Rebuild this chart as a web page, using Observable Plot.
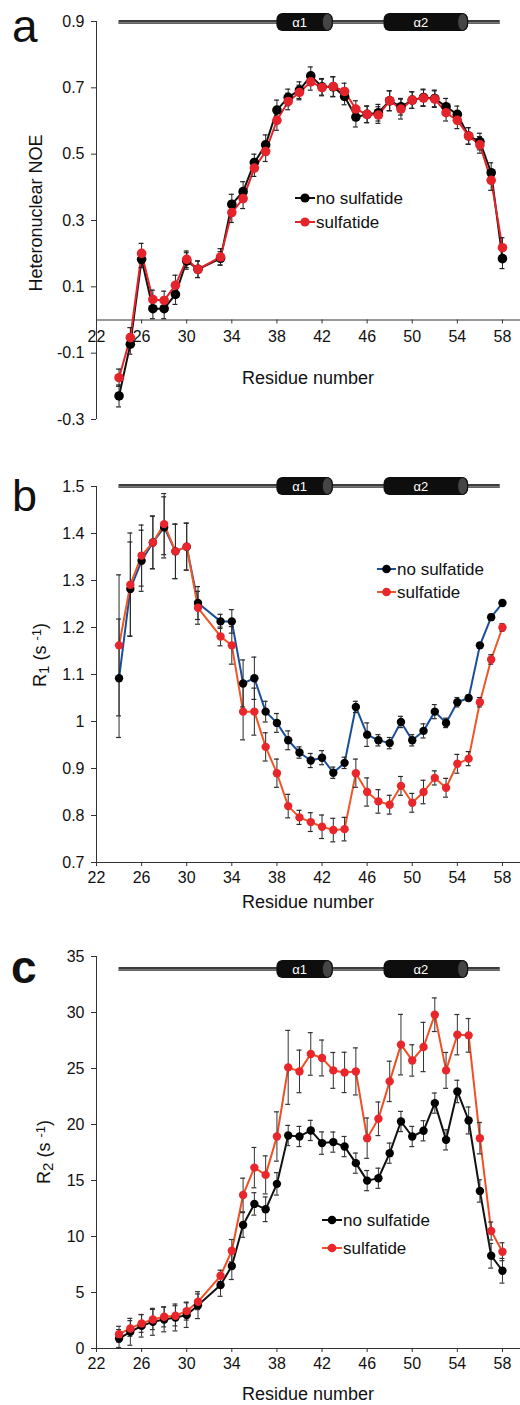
<!DOCTYPE html>
<html>
<head>
<meta charset="utf-8">
<script src="https://cdn.jsdelivr.net/npm/d3@7"></script>
<script src="https://cdn.jsdelivr.net/npm/@observablehq/plot@0.6"></script>
<style>
  body { margin: 0; background: #fff; }
  #chart { width: 520px; }
  #chart svg { display: block; }
</style>
</head>
<body>
<div id="chart"></div>
<script>
// ---------- data ----------
const residues = [24,25,26,27,28,29,30,31,33,34,35,36,37,38,39,40,41,42,43,44,45,46,47,48,49,50,51,52,53,54,55,56,57,58];
const seriesNames = ["no sulfatide", "sulfatide"];

// (a) heteronuclear NOE
const noeNoSulf = [-0.229,-0.073,0.183,0.034,0.034,0.077,0.178,0.153,0.186,0.349,0.387,0.475,0.528,0.633,0.671,0.693,0.736,0.703,0.703,0.674,0.612,0.620,0.625,0.661,0.643,0.663,0.671,0.668,0.643,0.620,0.555,0.538,0.444,0.185];
const noeNoSulfErr = [0.033,0.030,0.025,0.030,0.030,0.030,0.025,0.025,0.020,0.030,0.030,0.025,0.030,0.030,0.025,0.025,0.027,0.025,0.030,0.025,0.030,0.025,0.025,0.030,0.025,0.025,0.025,0.025,0.025,0.025,0.025,0.025,0.030,0.030];
const noeSulf = [-0.174,-0.053,0.201,0.062,0.059,0.105,0.183,0.153,0.190,0.324,0.366,0.458,0.508,0.602,0.659,0.686,0.718,0.701,0.704,0.689,0.636,0.620,0.618,0.661,0.636,0.663,0.669,0.666,0.625,0.602,0.555,0.528,0.421,0.218];
const noeSulfErr = [0.026,0.030,0.030,0.028,0.028,0.030,0.025,0.025,0.025,0.030,0.030,0.025,0.030,0.030,0.025,0.022,0.025,0.025,0.030,0.025,0.025,0.025,0.025,0.030,0.030,0.025,0.025,0.025,0.025,0.025,0.025,0.025,0.030,0.030];

// (b) R1
const r1NoSulf = [1.092,1.282,1.342,1.381,1.413,1.362,1.372,1.252,1.213,1.213,1.081,1.092,1.021,0.997,0.960,0.934,0.917,0.923,0.891,0.912,1.031,0.972,0.960,0.954,0.999,0.960,0.980,1.021,0.997,1.041,1.050,1.162,1.222,1.252];
const r1NoSulfErr = [0.126,0.100,0.065,0.056,0.065,0.058,0.050,0.035,0.015,0.025,0.050,0.045,0.022,0.020,0.020,0.012,0.015,0.015,0.012,0.012,0.012,0.025,0.012,0.012,0.012,0.012,0.015,0.015,0.010,0.010,0.006,0.006,0.006,0.006];
const r1Sulf = [1.162,1.291,1.353,1.381,1.420,1.362,1.372,1.242,1.181,1.162,1.021,1.021,0.946,0.890,0.820,0.796,0.786,0.776,0.769,0.771,0.890,0.850,0.830,0.823,0.863,0.827,0.850,0.880,0.859,0.910,0.921,1.041,1.132,1.200];
const r1SulfErr = [0.150,0.110,0.065,0.056,0.065,0.058,0.050,0.035,0.020,0.040,0.060,0.050,0.030,0.030,0.025,0.015,0.020,0.025,0.025,0.025,0.030,0.030,0.025,0.020,0.020,0.020,0.025,0.015,0.020,0.020,0.015,0.010,0.010,0.008];

// (c) R2
const r2NoSulf = [0.89,1.49,2.02,2.38,2.59,2.77,2.98,3.87,5.66,7.36,11.03,12.91,12.43,14.70,19.02,18.93,19.47,18.34,18.43,18.03,16.55,14.99,15.20,17.44,20.27,18.93,19.44,21.91,18.63,22.95,20.36,14.07,8.28,6.94];
const r2NoSulfErr = [0.8,1.2,1.0,1.2,1.1,1.2,1.1,1.2,1.0,1.2,1.1,1.0,1.1,1.0,0.9,0.9,0.9,1.0,0.9,0.9,0.9,0.9,0.9,0.9,0.9,0.9,0.9,0.9,0.9,1.0,1.2,1.0,1.1,1.1];
const r2Sulf = [1.28,1.79,2.24,2.59,2.83,2.92,3.34,4.17,6.49,8.73,13.71,16.15,15.50,18.93,25.10,24.74,26.30,25.94,24.83,24.65,24.74,18.78,20.51,23.85,27.13,25.72,26.92,29.80,24.83,28.02,27.96,18.78,10.49,8.64];
const r2SulfErr = [0.7,0.7,0.8,0.9,0.9,0.9,0.8,0.7,0.5,1.0,1.5,1.8,1.7,2.2,3.3,1.9,1.9,1.6,1.6,1.8,2.1,1.8,1.5,1.8,2.7,1.4,2.2,1.5,1.6,1.8,1.5,1.4,0.8,0.8];

// tick labels
const xTicks = [22,26,30,34,38,42,46,50,54,58];
const noeTicks = [-0.3,-0.1,0.1,0.3,0.5,0.7,0.9];
const r1Ticks = [0.7,0.8,0.9,1.0,1.1,1.2,1.3,1.4,1.5];
const r2Ticks = [0,5,10,15,20,25,30,35];

// secondary structure
const chainSpan = [24, 57.8];
const helixNames = ["α1", "α2"];
const helixStart = [38, 47.5];
const helixEnd = [43, 55];

// ---------- drawing ----------
const FONT = "'Liberation Sans', Arial, Helvetica, sans-serif";
const root = document.getElementById("chart");

function rows(vals, errs) {
  return residues.map((r, i) => ({r, v: vals[i], e: errs[i]}));
}
function errorMarks(data, stroke) {
  return [
    Plot.ruleX(data, {x: "r", y1: d => d.v - d.e, y2: d => d.v + d.e, stroke, strokeWidth: 1}),
    Plot.ruleY(data, {y: d => d.v + d.e, x1: d => d.r - 0.22, x2: d => d.r + 0.22, stroke, strokeWidth: 1.2}),
    Plot.ruleY(data, {y: d => d.v - d.e, x1: d => d.r - 0.22, x2: d => d.r + 0.22, stroke, strokeWidth: 1.2})
  ];
}

function drawHelix(svg, yPix) {
  const sx = v => svg.scale("x").apply(v);
  const g = d3.select(svg).append("g");
  g.append("line").attr("x1", sx(chainSpan[0])).attr("x2", sx(chainSpan[1]))
    .attr("y1", yPix).attr("y2", yPix).attr("stroke", "#3c3c3c").attr("stroke-width", 4);
  g.append("line").attr("x1", sx(chainSpan[0])).attr("x2", sx(chainSpan[1]))
    .attr("y1", yPix + 0.8).attr("y2", yPix + 0.8).attr("stroke", "#8c8c8c").attr("stroke-width", 1.2);
  helixNames.forEach((name, i) => {
    const x0 = sx(helixStart[i]), x1 = sx(helixEnd[i]);
    g.append("rect").attr("x", x0).attr("y", yPix - 9).attr("width", x1 - x0).attr("height", 18)
      .attr("rx", 6).attr("fill", "#0e0e0e");
    g.append("ellipse").attr("cx", x1 - 5.5).attr("cy", yPix).attr("rx", 5).attr("ry", 8.5)
      .attr("fill", "#454545").attr("stroke", "#111").attr("stroke-width", 1);
    g.append("text").attr("x", (x0 + x1 - 10) / 2).attr("y", yPix).attr("dy", "0.36em")
      .attr("text-anchor", "middle").attr("fill", "#fff").attr("font-size", 13)
      .attr("font-family", FONT).text(name);
  });
}

function drawLegend(svg, x0, x1, ys, lineColors, dotColors, r) {
  const g = d3.select(svg).append("g");
  seriesNames.forEach((name, i) => {
    g.append("line").attr("x1", x0).attr("x2", x1).attr("y1", ys[i]).attr("y2", ys[i])
      .attr("stroke", lineColors[i]).attr("stroke-width", 2);
    g.append("circle").attr("cx", (x0 + x1) / 2).attr("cy", ys[i]).attr("r", r).attr("fill", dotColors[i]);
    g.append("text").attr("x", x1 + 1).attr("y", ys[i]).attr("dy", "0.35em")
      .attr("text-anchor", "start")
      .attr("font-size", 17).attr("font-family", FONT).attr("fill", "#111").text(name);
  });
}

function drawText(svg, x, y, txt, size, weight, anchor) {
  d3.select(svg).append("text").attr("x", x).attr("y", y)
    .attr("font-size", size).attr("font-weight", weight || "normal")
    .attr("text-anchor", anchor || "start").attr("font-family", FONT).attr("fill", "#111").text(txt);
}

function drawYTitle(svg, cx, cy, parts) {
  const t = d3.select(svg).append("text")
    .attr("transform", `translate(${cx},${cy}) rotate(-90)`)
    .attr("text-anchor", "middle").attr("dy", "0.35em")
    .attr("font-size", 18).attr("font-family", FONT).attr("fill", "#111");
  parts.forEach(([s, kind]) => {
    const ts = t.append("tspan").text(s);
    if (kind === "sub") ts.attr("baseline-shift", "-18%").attr("font-size", 15);
    if (kind === "sup") ts.attr("baseline-shift", "35%").attr("font-size", 13);
  });
}

const baseStyle = {fontFamily: FONT, fontSize: "16px", background: "#fff", color: "#111", overflow: "visible"};
const fmt = d => String(+d.toFixed(1));

// ----- panel a -----
{
  const no = rows(noeNoSulf, noeNoSulfErr), s = rows(noeSulf, noeSulfErr);
  const svg = Plot.plot({
    width: 520, height: 440, marginLeft: 96, marginRight: 0, marginTop: 21, marginBottom: 21,
    style: baseStyle,
    x: {domain: [22, 59.6], axis: null},
    y: {domain: [-0.3, 0.9], axis: null},
    marks: [
      Plot.ruleX([22], {stroke: "#333", strokeWidth: 1}),
      Plot.axisY(noeTicks, {tickSize: 5, tickPadding: 7, tickFormat: fmt, label: null, stroke: "#333", fontSize: 16}),
      Plot.ruleY([0], {stroke: "#333", strokeWidth: 1}),
      Plot.ruleX(xTicks, {x: d => d, y1: () => 0, y2: () => -0.012, stroke: "#333"}),
      Plot.text(xTicks, {x: d => d, y: () => 0, dy: 17, text: d => String(d), fontSize: 16, fill: "#111"}),
      Plot.line(no, {x: "r", y: "v", stroke: "#111", strokeWidth: 2}),
      Plot.line(s, {x: "r", y: "v", stroke: "#e5232b", strokeWidth: 2}),
      ...errorMarks(no, "#222"),
      ...errorMarks(s, "#222"),
      Plot.dot(no, {x: "r", y: "v", r: 4.8, fill: "#000"}),
      Plot.dot(s, {x: "r", y: "v", r: 4.8, fill: "#e5232b"})
    ]
  });
  root.appendChild(svg);
  drawHelix(svg, 22);
  drawLegend(svg, 295, 315, [198, 222], ["#111", "#e5232b"], ["#000", "#e5232b"], 4.6);
  drawText(svg, 12, 42, "a", 46);
  drawText(svg, 308, 384, "Residue number", 18, "normal", "middle");
  drawYTitle(svg, 36, 213, [["Heteronuclear NOE", ""]]);
}

// ----- panel b -----
{
  const no = rows(r1NoSulf, r1NoSulfErr), s = rows(r1Sulf, r1SulfErr);
  const svg = Plot.plot({
    width: 520, height: 490, marginLeft: 96, marginRight: 0, marginTop: 46, marginBottom: 68,
    style: baseStyle,
    x: {domain: [22, 59.6], axis: null},
    y: {domain: [0.7, 1.5], axis: null},
    marks: [
      Plot.ruleX([22], {stroke: "#333", strokeWidth: 1}),
      Plot.ruleY([0.7], {stroke: "#333", strokeWidth: 1}),
      Plot.axisY(r1Ticks, {tickSize: 5, tickPadding: 7, tickFormat: fmt, label: null, stroke: "#333", fontSize: 16}),
      Plot.axisX(xTicks, {tickSize: 4, tickPadding: 5, tickFormat: d => String(d), label: null, stroke: "#333", fontSize: 16}),
      Plot.line(no, {x: "r", y: "v", stroke: "#1a4e98", strokeWidth: 2}),
      Plot.line(s, {x: "r", y: "v", stroke: "#f05626", strokeWidth: 2}),
      ...errorMarks(no, "#2a2a2a"),
      ...errorMarks(s, "#2a2a2a"),
      Plot.dot(no, {x: "r", y: "v", r: 4.2, fill: "#000"}),
      Plot.dot(s, {x: "r", y: "v", r: 4.2, fill: "#e8262c"})
    ]
  });
  root.appendChild(svg);
  drawHelix(svg, 46);
  drawLegend(svg, 377, 396, [129, 152], ["#1a4e98", "#f05626"], ["#000", "#e8262c"], 4.3);
  drawText(svg, 12, 71, "b", 45);
  drawText(svg, 308, 468, "Residue number", 18, "normal", "middle");
  drawYTitle(svg, 40, 215, [["R", ""], ["1", "sub"], [" (s ", ""], ["-1", "sup"], [")", ""]]);
}

// ----- panel c -----
{
  const no = rows(r2NoSulf, r2NoSulfErr), s = rows(r2Sulf, r2SulfErr);
  const svg = Plot.plot({
    width: 520, height: 475, marginLeft: 96, marginRight: 0, marginTop: 26, marginBottom: 57,
    style: baseStyle,
    x: {domain: [22, 59.6], axis: null},
    y: {domain: [0, 35], axis: null},
    marks: [
      Plot.ruleX([22], {stroke: "#333", strokeWidth: 1}),
      Plot.ruleY([0], {stroke: "#333", strokeWidth: 1}),
      Plot.axisY(r2Ticks, {tickSize: 5, tickPadding: 7, tickFormat: d => String(d), label: null, stroke: "#333", fontSize: 16}),
      Plot.axisX(xTicks, {tickSize: 4, tickPadding: 5, tickFormat: d => String(d), label: null, stroke: "#333", fontSize: 16}),
      Plot.line(no, {x: "r", y: "v", stroke: "#111", strokeWidth: 2}),
      Plot.line(s, {x: "r", y: "v", stroke: "#f04e23", strokeWidth: 2}),
      ...errorMarks(no, "#333"),
      ...errorMarks(s, "#333"),
      Plot.dot(no, {x: "r", y: "v", r: 4.2, fill: "#000"}),
      Plot.dot(s, {x: "r", y: "v", r: 4.2, fill: "#e8262c"})
    ]
  });
  root.appendChild(svg);
  drawHelix(svg, 39);
  drawLegend(svg, 322, 342, [290, 318], ["#111", "#f04e23"], ["#000", "#e8262c"], 4.3);
  drawText(svg, 11, 53, "c", 46, "bold");
  drawText(svg, 308, 470, "Residue number", 18, "normal", "middle");
  drawYTitle(svg, 44, 222, [["R", ""], ["2", "sub"], [" (s ", ""], ["-1", "sup"], [")", ""]]);
}
</script>
</body>
</html>
